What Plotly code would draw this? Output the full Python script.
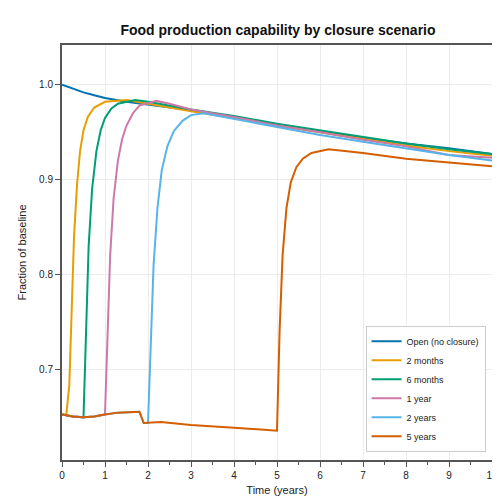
import plotly.graph_objects as go

closed_t = [0, 0.25, 0.5, 0.75, 1.0, 1.3, 1.8, 1.9, 2.3, 3.0, 4.0, 5.0]
closed_v = [0.652, 0.650, 0.649, 0.650, 0.652, 0.654, 0.655, 0.643, 0.644, 0.641, 0.638, 0.635]

open_t = [0, 0.25, 0.5, 0.75, 1, 1.5, 2, 3, 4, 5, 6, 7, 8, 9, 10]
open_v = [1.0, 0.996, 0.992, 0.989, 0.986, 0.982, 0.979, 0.973, 0.966, 0.958, 0.951, 0.944, 0.938, 0.933, 0.927]

m2_t = [0, 0.1, 0.17, 0.22, 0.28, 0.35, 0.42, 0.5, 0.6, 0.75, 1.0, 1.5, 2, 3, 4, 5, 6, 7, 8, 9, 10]
m2_v = [0.652, 0.652, 0.683, 0.76, 0.84, 0.895, 0.93, 0.952, 0.966, 0.976, 0.982, 0.984, 0.980, 0.972, 0.965, 0.957, 0.950, 0.943, 0.936, 0.930, 0.925]

m6_t = [0, 0.25, 0.5, 0.56, 0.62, 0.7, 0.8, 0.9, 1.0, 1.15, 1.3, 1.7, 2.0, 3, 4, 5, 6, 7, 8, 9, 10]
m6_v = [0.652, 0.650, 0.649, 0.75, 0.83, 0.89, 0.93, 0.952, 0.965, 0.975, 0.980, 0.984, 0.982, 0.974, 0.967, 0.959, 0.952, 0.945, 0.938, 0.932, 0.927]

y1_t = [0, 0.25, 0.5, 0.75, 1.0, 1.06, 1.12, 1.2, 1.3, 1.4, 1.5, 1.65, 1.8, 2.2, 2.5, 3, 4, 5, 6, 7, 8, 9, 10]
y1_v = [0.652, 0.650, 0.649, 0.650, 0.652, 0.74, 0.82, 0.88, 0.92, 0.943, 0.957, 0.970, 0.978, 0.983, 0.980, 0.974, 0.966, 0.957, 0.950, 0.942, 0.935, 0.926, 0.923]

y2_t = [0, 0.25, 0.5, 0.75, 1.0, 1.3, 1.8, 1.9, 2.0, 2.06, 2.13, 2.22, 2.32, 2.45, 2.6, 2.8, 3.0, 3.3, 4, 5, 6, 7, 8, 9, 10]
y2_v = [0.652, 0.650, 0.649, 0.650, 0.652, 0.654, 0.655, 0.643, 0.643, 0.73, 0.81, 0.87, 0.91, 0.935, 0.951, 0.962, 0.968, 0.970, 0.964, 0.955, 0.947, 0.940, 0.933, 0.926, 0.920]

y5_t = closed_t + [5.06, 5.13, 5.22, 5.32, 5.45, 5.6, 5.8, 6.2, 7, 8, 9, 10]
y5_v = closed_v + [0.74, 0.82, 0.87, 0.897, 0.913, 0.922, 0.928, 0.932, 0.928, 0.922, 0.918, 0.914]

series = [
    ("Open (no closure)", open_t, open_v, "#0072B2"),
    ("2 months", m2_t, m2_v, "#E69F00"),
    ("6 months", m6_t, m6_v, "#009E73"),
    ("1 year", y1_t, y1_v, "#CC79A7"),
    ("2 years", y2_t, y2_v, "#56B4E9"),
    ("5 years", y5_t, y5_v, "#D55E00"),
]

fig = go.Figure()
for name, t, v, c in series:
    fig.add_trace(go.Scatter(x=t, y=v, name=name, mode="lines",
                             line=dict(color=c, width=2, shape="linear")))

axis_common = dict(showline=True, linecolor="#555", linewidth=2, mirror=True,
                   ticks="outside", ticklen=5, tickcolor="#555", showgrid=True,
                   gridcolor="#ececec", zeroline=False, automargin=False,
                   tickfont=dict(size=10, color="#222"))
fig.update_xaxes(range=[0, 10], dtick=1, title=dict(text="Time (years)", font=dict(size=11), standoff=6),
                 minor=dict(ticks="outside", ticklen=3, dtick=0.5, tickcolor="#555"), **axis_common)
fig.update_yaxes(range=[0.604, 1.042], tickvals=[0.7, 0.8, 0.9, 1.0], ticktext=["0.7", "0.8", "0.9", "1.0"],
                 title=dict(text="Fraction of baseline", font=dict(size=11), standoff=10), **axis_common)

fig.update_layout(
    width=500, height=500,
    margin=dict(l=54, r=16, t=37, b=48),
    plot_bgcolor="white", paper_bgcolor="white",
    font=dict(family="Liberation Sans, Arial", color="#222"),
    title=dict(text="<b>Food production capability by closure scenario</b>", x=0.54, y=0.955,
               xanchor="center", yanchor="middle", font=dict(size=14, color="#111")),
    legend=dict(x=0.985, y=0.02, xanchor="right", yanchor="bottom", bgcolor="white",
                bordercolor="#ccc", borderwidth=1, font=dict(size=9), tracegroupgap=0),
)
fig.write_html("out.html")
